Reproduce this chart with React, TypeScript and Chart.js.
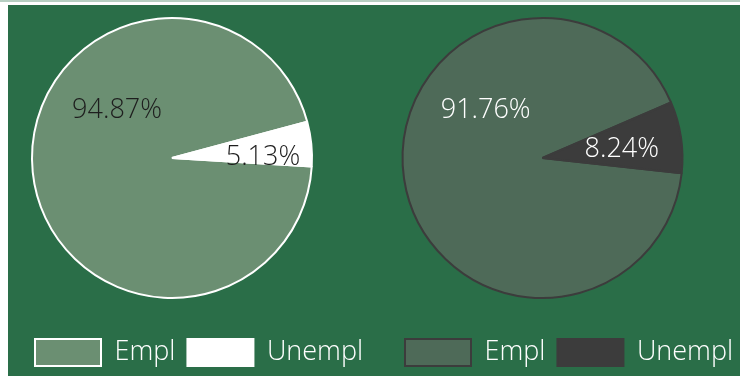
import React, { useEffect, useRef } from 'react';
import { Chart, registerables } from 'chart.js';

Chart.register(...registerables);

const categories = ['Empl', 'Unempl'];
const leftValues = [94.87, 5.13];
const rightValues = [91.76, 8.24];

const BG = '#2a6e48';
const FONT = "'Open Sans', 'Noto Sans', sans-serif";

// Keep both legend items on one row even though the pie area is padded.
const widenLegend = {
  id: 'widenLegend',
  beforeUpdate(chart: any) {
    const lg = chart.legend;
    if (lg && !lg.__wide) {
      const orig = lg.update.bind(lg);
      lg.update = (mw: number, mh: number, m: any) => orig(mw + 400, mh, m);
      lg.__wide = true;
    }
  },
  afterLayout(chart: any) {
    const lg = chart.legend;
    if (lg) {
      lg.right = lg.left + 2000;
    }
  },
};

const sliceLabels = {
  id: 'sliceLabels',
  afterDatasetsDraw(chart: any, _args: any, opts: any) {
    const ctx = chart.ctx;
    const meta = chart.getDatasetMeta(0);
    const data: number[] = chart.data.datasets[0].data;
    const total = data.reduce((a, b) => a + b, 0);
    let maxI = 0;
    data.forEach((v, i) => { if (v > data[maxI]) maxI = i; });
    ctx.save();
    ctx.font = `300 ${opts.size}px ${FONT}`;
    ctx.fillStyle = opts.color;
    ctx.textAlign = 'center';
    ctx.textBaseline = 'middle';
    meta.data.forEach((arc: any, i: number) => {
      const { x, y, startAngle, endAngle, outerRadius } = arc.getProps(['x', 'y', 'startAngle', 'endAngle', 'outerRadius'], true);
      let ang: number;
      let rr: number;
      if (i === maxI) {
        ang = (opts.bigAngle * Math.PI) / 180;
        rr = outerRadius * opts.bigR;
      } else {
        ang = (startAngle + endAngle) / 2 + (opts.smallShift * Math.PI) / 180;
        rr = outerRadius * opts.smallR;
      }
      const text = ((data[i] / total) * 100).toFixed(2) + '%';
      ctx.fillText(text, x + Math.cos(ang) * rr, y + Math.sin(ang) * rr);
    });
    ctx.restore();
  },
};

type PieProps = {
  values: number[];
  fills: string[];
  border: string;
  labelColor: string;
  rotation: number;
  padL: number;
  padR: number;
  padT: number;
  smallR: number;
  smallShift: number;
  bigAngle: number;
  bigR: number;
};

function PieChart(p: PieProps) {
  const ref = useRef<HTMLCanvasElement>(null);
  useEffect(() => {
    if (!ref.current) return;
    const chart = new Chart(ref.current, {
      type: 'pie',
      data: {
        labels: categories,
        datasets: [
          {
            data: p.values,
            backgroundColor: p.fills,
            borderColor: p.border,
            borderWidth: 2,
          },
        ],
      },
      options: {
        animation: false,
        responsive: true,
        maintainAspectRatio: false,
        rotation: p.rotation,
        radius: 140,
        layout: { padding: { left: p.padL, right: p.padR, top: p.padT, bottom: 0 } },
        plugins: {
          tooltip: { enabled: false },
          legend: {
            position: 'bottom',
            align: 'start',
            title: { display: true, text: '', font: { size: 10 }, padding: { top: 5, bottom: 0 } },
            labels: {
              boxWidth: 66,
              boxHeight: 27,
              padding: 12,
              color: '#ffffff',
              font: { size: 27, family: FONT, weight: '300' as any },
            },
          },
          sliceLabels: {
            color: p.labelColor,
            size: 27,
            smallR: p.smallR,
            smallShift: p.smallShift,
            bigAngle: p.bigAngle,
            bigR: p.bigR,
          },
        } as any,
      },
      plugins: [widenLegend, sliceLabels],
    });
    return () => chart.destroy();
  }, []);
  return (
    <div style={{ position: 'relative', width: 366, height: 371 }}>
      <canvas ref={ref} />
    </div>
  );
}

export default function App() {
  return (
    <>
      <div style={{ position: 'fixed', left: 0, top: 0, width: '100%', height: 2, background: '#b7cfc2' }} />
      <div
        style={{
          position: 'fixed',
          left: 8,
          top: 5,
          width: 732,
          height: 371,
          background: BG,
          display: 'flex',
          flexDirection: 'row',
        }}
      >
        <PieChart
          values={leftValues}
          fills={['#6b8f72', '#ffffff']}
          border="#ffffff"
          labelColor="#1e1e1e"
          rotation={93.45}
          padL={15}
          padR={53}
          padT={1}
          smallR={0.65}
          smallShift={5.5}
          bigAngle={221}
          bigR={0.52}
        />
        <PieChart
          values={rightValues}
          fills={['#4e6a58', '#3c3c3c']}
          border="#3c3c3c"
          labelColor="#ffffff"
          rotation={96.3}
          padL={19}
          padR={48}
          padT={1}
          smallR={0.57}
          smallShift={2.3}
          bigAngle={220}
          bigR={0.53}
        />
      </div>
    </>
  );
}
